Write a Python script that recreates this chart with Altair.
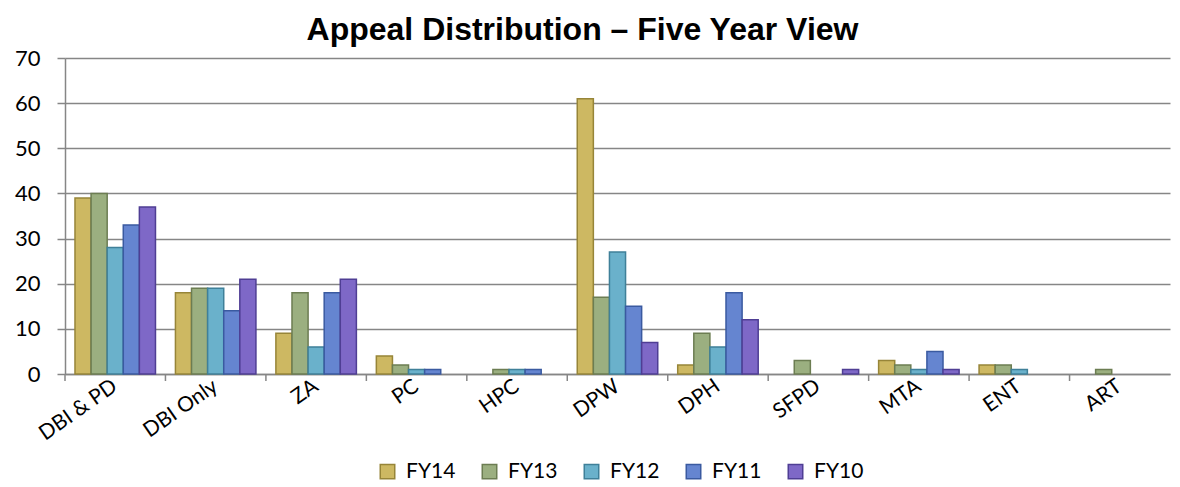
import altair as alt
import pandas as pd

categories = ["DBI & PD", "DBI Only", "ZA", "PC", "HPC", "DPW", "DPH", "SFPD", "MTA", "ENT", "ART"]
years = ["FY14", "FY13", "FY12", "FY11", "FY10"]
fy14 = [39, 18, 9, 4, 0, 61, 2, 0, 3, 2, 0]
fy13 = [40, 19, 18, 2, 1, 17, 9, 3, 2, 2, 1]
fy12 = [28, 19, 6, 1, 1, 27, 6, 0, 1, 1, 0]
fy11 = [33, 14, 18, 1, 1, 15, 18, 0, 5, 0, 0]
fy10 = [37, 21, 21, 0, 0, 7, 12, 1, 1, 0, 0]
fills = ["#CDB862", "#9BAF80", "#6AB1CB", "#6585D0", "#7E68C7"]
strokes = ["#978538", "#6C7D52", "#3F8099", "#3A5AA0", "#4F3E94"]

series = [fy14, fy13, fy12, fy11, fy10]
rows = []
for y, vals in zip(years, series):
    for c, v in zip(categories, vals):
        rows.append({"Category": c, "Year": y, "Value": v})
df = pd.DataFrame(rows)

font = "Lato"

base = alt.Chart(df).transform_filter("datum.Value > 0")

bars = base.mark_bar(strokeWidth=1.5).encode(
    x=alt.X("Category:N", sort=categories, title=None,
            scale=alt.Scale(domain=categories, paddingInner=0, paddingOuter=0),
            axis=alt.Axis(labelAngle=-35, labelAlign="right", labelBaseline="middle",
                          labelFontSize=21, labelFont=font, labelColor="#000000",
                          labelPadding=10, ticks=False, domain=True,
                          domainColor="#868686", domainWidth=1.5, grid=False)),
    xOffset=alt.XOffset("Year:N", sort=years,
                        scale=alt.Scale(domain=years, paddingInner=0, paddingOuter=0.62)),
    y=alt.Y("Value:Q", title=None,
            scale=alt.Scale(domain=[0, 70]),
            axis=alt.Axis(values=list(range(0, 71, 10)), labelFontSize=22,
                          labelFont=font, labelColor="#000000", tickSize=8,
                          tickColor="#868686", tickWidth=1.5,
                          domainColor="#868686", domainWidth=1.5,
                          gridColor="#868686", gridWidth=1.5, labelPadding=17)),
    fill=alt.Fill("Year:N", sort=years, title=None,
                  scale=alt.Scale(domain=years, range=fills),
                  legend=alt.Legend(orient="none", legendX=312, legendY=403,
                                    direction="horizontal", symbolType="square",
                                    symbolSize=210, symbolStrokeWidth=1.5,
                                    labelFontSize=21, labelFont=font,
                                    labelColor="#000000", columnPadding=23,
                                    labelOffset=8)),
    stroke=alt.Stroke("Year:N", sort=years, title=None,
                      scale=alt.Scale(domain=years, range=strokes)),
)

cat_df = pd.DataFrame({"Category": categories})
ticks = alt.Chart(cat_df).mark_rule(color="#868686", strokeWidth=1.5).encode(
    x=alt.X("Category:N", sort=categories, bandPosition=0),
    y=alt.value(316),
    y2=alt.value(323),
)

chart = alt.layer(bars, ticks).properties(
    width=1105, height=316,
    padding={"left": 57, "top": 50, "right": 2, "bottom": 112},
    autosize=alt.AutoSizeParams(type="none"),
    title=alt.TitleParams("Appeal Distribution – Five Year View", fontSize=32,
                          font="Liberation Sans", fontWeight="bold",
                          color="#000000", anchor="middle", dx=-35, offset=0),
).configure_view(stroke=None)

chart.save("out.html", embed_options={"renderer": "svg", "actions": False})
